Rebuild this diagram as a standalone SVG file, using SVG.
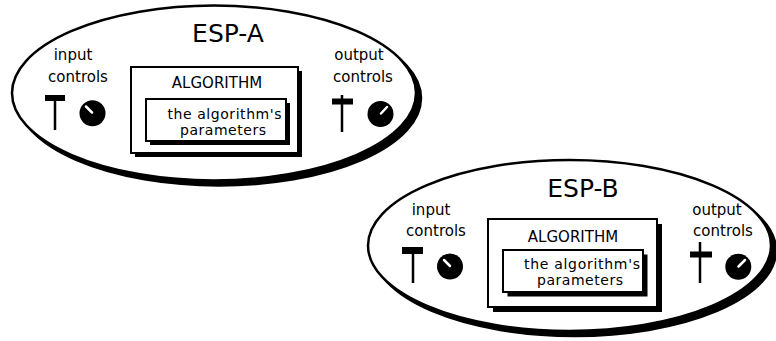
<svg xmlns="http://www.w3.org/2000/svg" width="776" height="341" viewBox="0 0 776 341">
<style>
  .shadow { fill: #000; stroke: #000; stroke-width: 2.5; }
  .body { fill: #fff; stroke: #000; stroke-width: 2.5; }
  .box { fill: #fff; stroke: #000; stroke-width: 2; }
  .boxsh { fill: #000; }
  .t { font-family: "DejaVu Sans", "Liberation Sans", sans-serif; font-size: 15px; fill: #000; text-anchor: middle; }
  .p { font-family: "DejaVu Sans", "Liberation Sans", sans-serif; font-size: 14px; fill: #000; text-anchor: middle; }
  .title { font-family: "DejaVu Sans", "Liberation Sans", sans-serif; font-size: 25px; fill: #000; text-anchor: middle; }
  .stem { stroke: #000; stroke-width: 2.5; fill: none; }
  .knob { fill: #000; }
  .ind { stroke: #fff; stroke-width: 2.5; stroke-linecap: round; }
</style>
<rect width="776" height="341" fill="#fff"/>

<!-- ESP-A -->
<g id="esp-a">
  <ellipse class="shadow" cx="219" cy="98" rx="202" ry="87.5"/>
  <ellipse class="body" cx="214" cy="93" rx="202" ry="87.5"/>
  <text class="title" x="228" y="42">ESP-A</text>
</g>
<g id="esp-a-input">
  <text class="t" x="73" y="60">input</text>
  <text class="t" x="78" y="82">controls</text>
  <rect x="45" y="95" width="20" height="6" fill="#000"/>
  <line class="stem" x1="55" y1="95" x2="55" y2="130"/>
  <circle class="knob" cx="92.5" cy="113.3" r="13"/>
  <line class="ind" x1="86" y1="106.5" x2="92" y2="112.5"/>
</g>
<g id="esp-a-output">
  <text class="t" x="359" y="60">output</text>
  <text class="t" x="363" y="82">controls</text>
  <rect x="332" y="98.5" width="21" height="6" fill="#000"/>
  <line class="stem" x1="342" y1="95" x2="342" y2="132"/>
  <circle class="knob" cx="380.5" cy="114" r="13"/>
  <line class="ind" x1="381" y1="113.5" x2="387" y2="107"/>
</g>
<g id="esp-a-algorithm">
  <rect class="boxsh" x="135" y="71" width="167" height="86"/>
  <rect class="box" x="131" y="67" width="167" height="86"/>
  <text class="t" x="217" y="88">ALGORITHM</text>
</g>
<g id="esp-a-params">
  <rect class="boxsh" x="150" y="103" width="140" height="42"/>
  <rect class="box" x="146" y="99" width="140" height="42"/>
  <text class="p" x="224.5" y="118.5" textLength="114" lengthAdjust="spacing">the algorithm's</text>
  <text class="p" x="223" y="135" textLength="86" lengthAdjust="spacing">parameters</text>
</g>

<!-- ESP-B -->
<g id="esp-b">
  <ellipse class="shadow" cx="574.5" cy="250.5" rx="201.5" ry="85.5"/>
  <ellipse class="body" cx="569.5" cy="245.5" rx="201.5" ry="85.5"/>
  <text class="title" x="583" y="197">ESP-B</text>
</g>
<g id="esp-b-input">
  <text class="t" x="431" y="215">input</text>
  <text class="t" x="436" y="236">controls</text>
  <rect x="402" y="247" width="21" height="7" fill="#000"/>
  <line class="stem" x1="413" y1="247" x2="413" y2="283"/>
  <circle class="knob" cx="450" cy="266.5" r="13"/>
  <line class="ind" x1="444" y1="260" x2="450" y2="266"/>
</g>
<g id="esp-b-output">
  <text class="t" x="717" y="215">output</text>
  <text class="t" x="723" y="236">controls</text>
  <rect x="690" y="251.5" width="22" height="6" fill="#000"/>
  <line class="stem" x1="700" y1="242" x2="700" y2="283"/>
  <circle class="knob" cx="738.3" cy="266.7" r="13"/>
  <line class="ind" x1="738.5" y1="266.5" x2="745" y2="260"/>
</g>
<g id="esp-b-algorithm">
  <rect class="boxsh" x="493" y="224" width="169" height="88"/>
  <rect class="box" x="488" y="219" width="169" height="88"/>
  <text class="t" x="573" y="242">ALGORITHM</text>
</g>
<g id="esp-b-params">
  <rect class="boxsh" x="507.5" y="254.5" width="140" height="42"/>
  <rect class="box" x="503" y="250" width="140" height="42"/>
  <text class="p" x="582" y="268.5" textLength="116" lengthAdjust="spacing">the algorithm's</text>
  <text class="p" x="580" y="285" textLength="86" lengthAdjust="spacing">parameters</text>
</g>
</svg>
